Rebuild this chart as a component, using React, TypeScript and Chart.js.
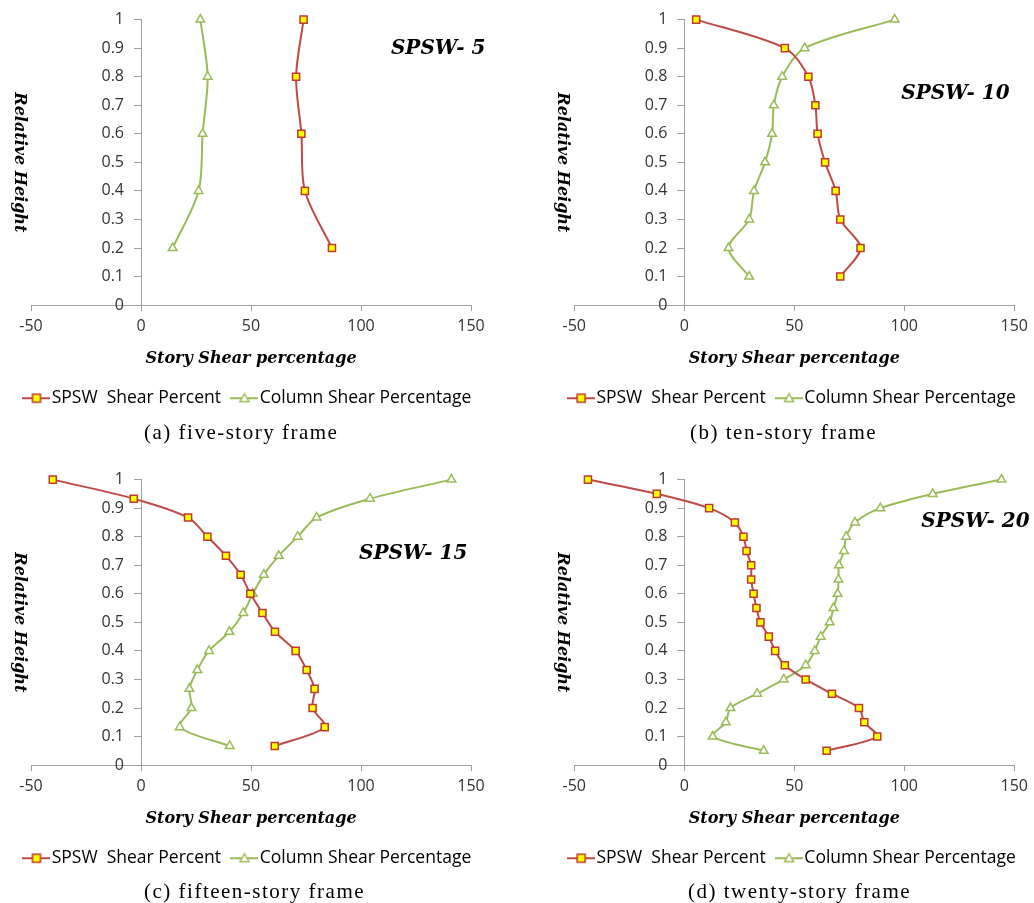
import React, { useEffect, useRef } from 'react';
import { Chart, registerables } from 'chart.js';

Chart.register(...registerables);

// ---------- data ----------
const xTickValues = [-50, 0, 50, 100, 150];
const xTickLabels = ['-50', '0', '50', '100', '150'];
const yTickValues = [0, 0.1, 0.2, 0.3, 0.4, 0.5, 0.6, 0.7, 0.8, 0.9, 1];
const yTickLabels = ['0', '0.1', '0.2', '0.3', '0.4', '0.5', '0.6', '0.7', '0.8', '0.9', '1'];

const seriesNames = ['SPSW  Shear Percent', 'Column Shear Percentage'];

const height5 = [1, 0.8, 0.6, 0.4, 0.2];
const spsw5 = [73.9, 70.5, 72.9, 74.5, 86.8];
const column5 = [27.0, 30.3, 28.0, 26.2, 14.4];

const height10 = [1, 0.9, 0.8, 0.7, 0.6, 0.5, 0.4, 0.3, 0.2, 0.1];
const spsw10 = [5.4, 45.7, 56.4, 59.6, 60.6, 64.0, 68.8, 70.9, 80.1, 70.9];
const column10 = [95.6, 54.7, 44.5, 40.7, 39.9, 36.7, 31.7, 29.5, 20.1, 29.5];

const height15 = [1, 0.933, 0.867, 0.8, 0.733, 0.667, 0.6, 0.533, 0.467, 0.4, 0.333, 0.267, 0.2, 0.133, 0.067];
const spsw15 = [-40.1, -3.3, 21.4, 30.2, 38.6, 45.3, 49.7, 55.2, 60.9, 70.3, 75.3, 78.9, 78.0, 83.5, 60.8];
const column15 = [141.1, 104.1, 79.8, 71.2, 62.6, 55.8, 50.8, 46.5, 40.2, 30.9, 25.6, 22.0, 22.9, 17.6, 40.3];

const height20 = [1, 0.95, 0.9, 0.85, 0.8, 0.75, 0.7, 0.65, 0.6, 0.55, 0.5, 0.45, 0.4, 0.35, 0.3, 0.25, 0.2, 0.15, 0.1, 0.05];
const spsw20 = [-43.8, -12.5, 11.3, 23.0, 26.9, 28.3, 30.4, 30.4, 31.5, 32.8, 34.6, 38.4, 41.3, 45.7, 55.2, 67.1, 79.4, 81.8, 87.7, 64.7];
const column20 = [144.2, 112.9, 89.1, 77.6, 73.6, 72.6, 70.3, 70.1, 69.7, 67.8, 66.1, 62.0, 59.3, 55.2, 45.2, 33.1, 21.0, 18.9, 12.9, 36.1];

const panelLabels = ['SPSW- 5', 'SPSW- 10', 'SPSW- 15', 'SPSW- 20'];
const captions = ['(a) five-story frame', '(b) ten-story frame', '(c) fifteen-story frame', '(d) twenty-story frame'];

// ---------- styles ----------
const RED = '#BE4B48';
const RED_BORDER = '#C0392B';
const YELLOW = '#FFFF00';
const GREEN = '#9BBB59';
const AXIS = '#A0A0A0';
const TICK_FONT = { family: '"Open Sans", sans-serif', size: 16 };
const TITLE_FONT = { family: '"DejaVu Serif", serif', size: 16, style: 'italic' as const, weight: 'bold' as const };
const LEGEND_FONT_SIZE = 17.5;

function makeIcon(kind: 'rect' | 'triangle', line: string, fill: string, stroke: string) {
  const c = document.createElement('canvas');
  c.width = 28;
  c.height = 12;
  const g = c.getContext('2d')!;
  g.strokeStyle = line;
  g.lineWidth = 2;
  g.beginPath();
  g.moveTo(0, 6);
  g.lineTo(28, 6);
  g.stroke();
  g.fillStyle = fill;
  g.strokeStyle = stroke;
  g.lineWidth = 1.5;
  if (kind === 'rect') {
    g.fillRect(10, 2, 8, 8);
    g.strokeRect(10, 2, 8, 8);
  } else {
    g.beginPath();
    g.moveTo(14, 1.5);
    g.lineTo(18.5, 9.5);
    g.lineTo(9.5, 9.5);
    g.closePath();
    g.fill();
    g.stroke();
  }
  return c;
}

// shifts the y tick labels of the axis that sits at x = 0 away from its tick marks
const yLabelShift = {
  id: 'yLabelShift',
  beforeDraw(chart: any) {
    const s = chart.scales.y;
    const items = s.getLabelItems(chart.chartArea);
    items.forEach((it: any) => {
      if (it.__shifted) return;
      if (it.options && it.options.translation) it.options.translation[0] -= 17;
      else if (typeof it.x === 'number') it.x -= 17;
      it.__shifted = true;
    });
  },
};

type PanelProps = {
  heights: number[];
  spsw: number[];
  column: number[];
  label: string;
  labelX: number;
  labelY: number;
  left: number;
  top: number;
  width: number;
  height: number;
  padLeft: number;
  padRight: number;
  spaceLeft: number;
  spaceRight: number;
};

function Panel(p: PanelProps) {
  const ref = useRef<HTMLCanvasElement>(null);
  useEffect(() => {
    if (!ref.current) return;
    const icons = [makeIcon('rect', RED, YELLOW, RED_BORDER), makeIcon('triangle', GREEN, '#ffffff', GREEN)];
    const labelPlugin = {
      id: 'panelLabel',
      afterDatasetsDraw(chart: any) {
        const { ctx, scales } = chart;
        ctx.save();
        ctx.font = 'italic bold 20px "DejaVu Serif", serif';
        ctx.fillStyle = '#000';
        ctx.textBaseline = 'middle';
        ctx.textAlign = 'left';
        ctx.fillText(p.label, scales.x.getPixelForValue(p.labelX), scales.y.getPixelForValue(p.labelY));
        ctx.restore();
      },
    };
    const spacer = (w: number, pos: 'left' | 'right') => ({
      type: 'linear',
      axis: 'y',
      position: pos,
      display: true,
      ticks: { display: false },
      grid: { display: false, drawTicks: false },
      border: { display: false },
      title: { display: false },
      afterFit: (s: any) => {
        s.width = w;
      },
    });
    const chart = new Chart(ref.current, {
      type: 'scatter',
      data: {
        datasets: [
          {
            label: seriesNames[0],
            data: p.heights.map((h, i) => ({ x: p.spsw[i], y: h })),
            showLine: true,
            borderColor: RED,
            borderWidth: 2,
            tension: 0.3,
            pointStyle: 'rect',
            pointRadius: 5,
            pointBackgroundColor: YELLOW,
            pointBorderColor: RED_BORDER,
            pointBorderWidth: 1.5,
            clip: false,
          },
          {
            label: seriesNames[1],
            data: p.heights.map((h, i) => ({ x: p.column[i], y: h })),
            showLine: true,
            borderColor: GREEN,
            borderWidth: 2,
            tension: 0.3,
            pointStyle: 'triangle',
            pointRadius: 5,
            pointBackgroundColor: '#ffffff',
            pointBorderColor: GREEN,
            pointBorderWidth: 1.5,
            clip: false,
          },
        ],
      },
      options: {
        responsive: false,
        animation: false,
        layout: { padding: { left: p.padLeft, right: p.padRight, top: 18, bottom: 10 } },
        plugins: {
          tooltip: { enabled: false },
          legend: {
            display: true,
            position: 'bottom',
            labels: {
              usePointStyle: true,
              pointStyleWidth: 13,
              padding: 17,
              color: '#404040',
              font: { family: '"Open Sans", sans-serif', size: LEGEND_FONT_SIZE },
              generateLabels: (c: any) =>
                c.data.datasets.map((ds: any, i: number) => ({
                  text: ds.label,
                  pointStyle: icons[i],
                  fillStyle: 'transparent',
                  strokeStyle: 'transparent',
                  lineWidth: 0,
                  hidden: false,
                  datasetIndex: i,
                })),
            },
          },
        },
        scales: {
          x: {
            type: 'linear',
            min: -50,
            max: 150,
            position: 'bottom',
            afterBuildTicks: (s: any) => {
              s.ticks = xTickValues.map((v) => ({ value: v }));
            },
            ticks: {
              autoSkip: false,
              padding: 6,
              color: '#333',
              font: TICK_FONT,
              callback: (_v: any, i: number) => xTickLabels[i],
            },
            grid: { drawOnChartArea: false, drawTicks: true, tickLength: 6, color: AXIS },
            border: { display: true, color: AXIS, width: 1 },
            title: { display: true, text: 'Story Shear percentage', color: '#000', font: TITLE_FONT, padding: { top: 7, bottom: 4 } },
          },
          y: {
            type: 'linear',
            min: 0,
            max: 1,
            position: { x: 0 } as any,
            afterBuildTicks: (s: any) => {
              s.ticks = yTickValues.map((v) => ({ value: v }));
            },
            afterFit: (s: any) => {
              s.width = 131.6;
            },
            ticks: {
              autoSkip: false,
              padding: 10,
              color: '#333',
              font: TICK_FONT,
              callback: (_v: any, i: number) => yTickLabels[i],
            },
            grid: { drawOnChartArea: false, drawTicks: true, tickLength: 7, color: AXIS },
            border: { display: true, color: AXIS, width: 1 },
            title: { display: true, text: 'Relative Height', color: '#000', font: TITLE_FONT, padding: { top: 0, bottom: 0 } },
          },
          padL: spacer(p.spaceLeft, 'left'),
          padR: spacer(p.spaceRight, 'right'),
        },
      },
      plugins: [labelPlugin, yLabelShift],
    } as any);
    return () => chart.destroy();
  }, []);
  return (
    <canvas
      ref={ref}
      width={p.width}
      height={p.height}
      style={{ position: 'absolute', left: p.left, top: p.top, width: p.width, height: p.height }}
    />
  );
}

const captionStyle: React.CSSProperties = {
  position: 'absolute',
  fontFamily: '"Liberation Serif", "Times New Roman", serif',
  fontSize: 21,
  letterSpacing: 1.5,
  color: '#000',
  whiteSpace: 'nowrap',
  lineHeight: '24px',
};

const leftPanel = { padLeft: 0, padRight: 15.8, spaceLeft: 31, spaceRight: 30.2 };
const rightPanel = { padLeft: 39.5, padRight: 0, spaceLeft: 17.8, spaceRight: 18.7 };

export default function App() {
  return (
    <div style={{ position: 'absolute', left: 0, top: 0, width: 1034, height: 903, background: '#fff', overflow: 'hidden' }}>
      <Panel heights={height5} spsw={spsw5} column={column5} label={panelLabels[0]} labelX={113.6} labelY={0.896}
        left={0} top={0} width={517} height={427} {...leftPanel} />
      <Panel heights={height10} spsw={spsw10} column={column10} label={panelLabels[1]} labelX={98.6} labelY={0.74}
        left={517} top={0} width={517} height={427} {...rightPanel} />
      <Panel heights={height15} spsw={spsw15} column={column15} label={panelLabels[2]} labelX={99.1} labelY={0.74}
        left={0} top={460} width={517} height={427} {...leftPanel} />
      <Panel heights={height20} spsw={spsw20} column={column20} label={panelLabels[3]} labelX={107.7} labelY={0.852}
        left={517} top={460} width={517} height={427} {...rightPanel} />
      <div style={{ ...captionStyle, left: 144, top: 420 }}>{captions[0]}</div>
      <div style={{ ...captionStyle, left: 690, top: 420 }}>{captions[1]}</div>
      <div style={{ ...captionStyle, left: 144, top: 879 }}>{captions[2]}</div>
      <div style={{ ...captionStyle, left: 688, top: 879 }}>{captions[3]}</div>
    </div>
  );
}
